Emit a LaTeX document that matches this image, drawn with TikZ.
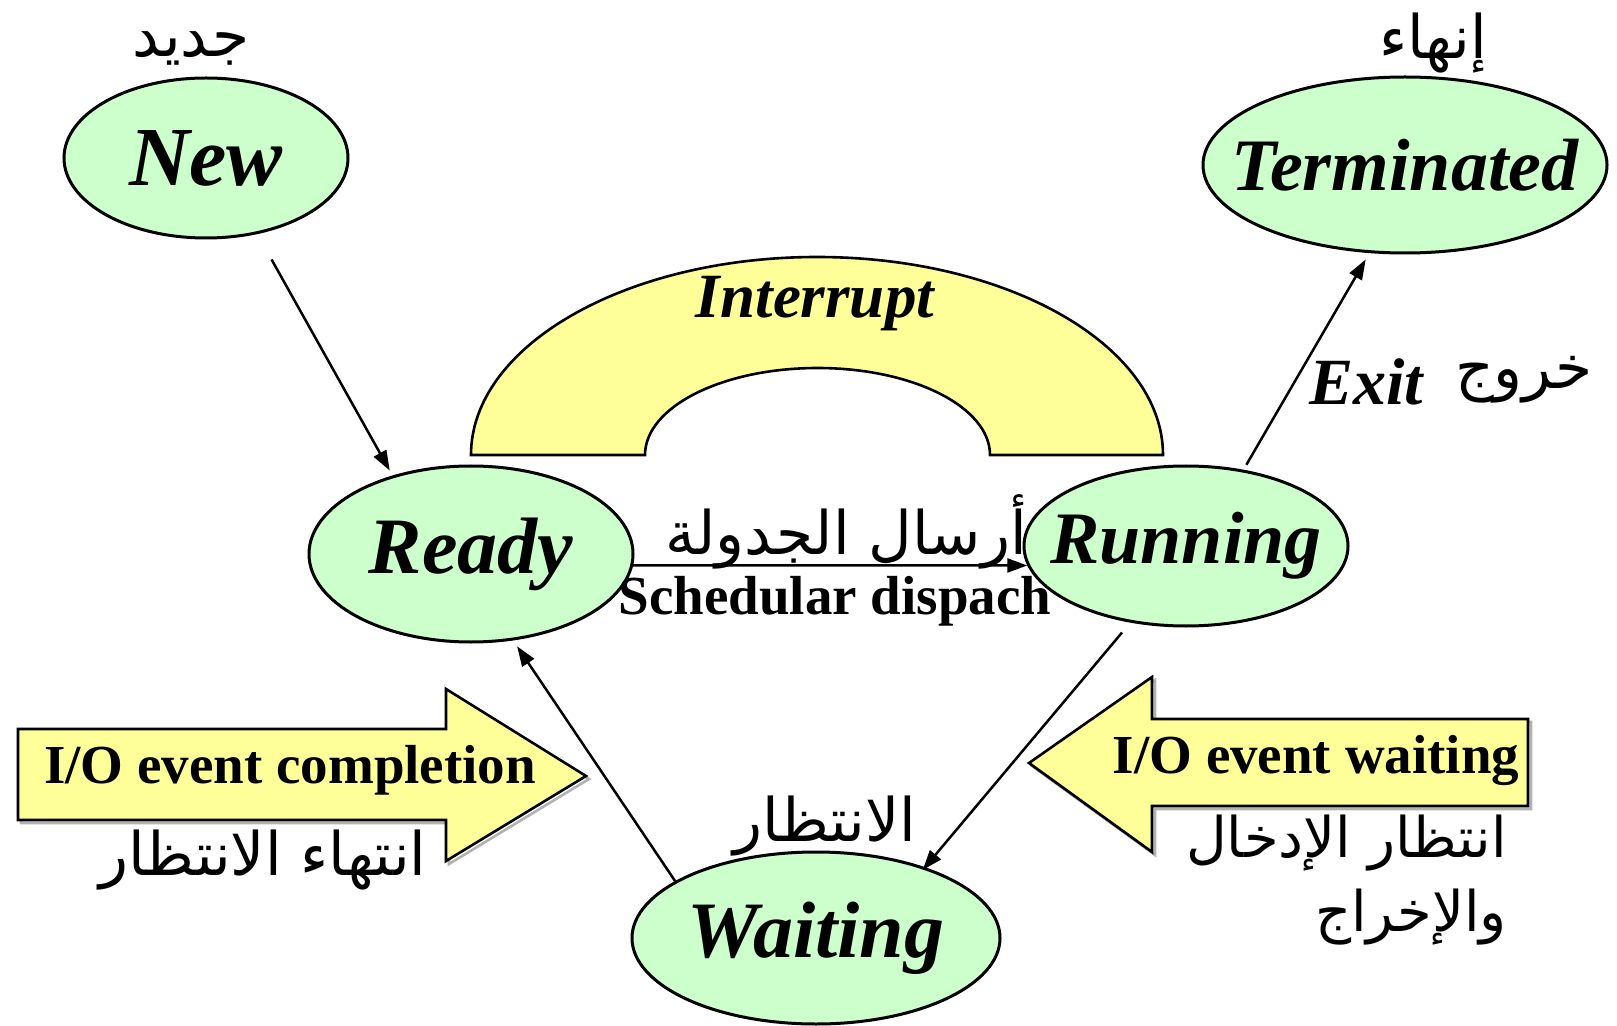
\documentclass[tikz,border=0pt]{standalone}
\usepackage{fontspec}
\setmainfont{Liberation Serif}
\newfontfamily\arabicfont[Script=Arabic]{DejaVu Sans}
\TeXXeTstate=1
\usetikzlibrary{shapes.geometric,arrows.meta}
\definecolor{stategreen}{HTML}{CCFFCC}
\definecolor{noteyellow}{HTML}{FFFF99}
% state names are set in a zero-width box so that the ellipse keeps its given size
\newcommand{\statename}[1]{\makebox[0pt][c]{#1}}

\begin{document}
\begin{tikzpicture}[x=0.5pt,y=0.5pt,
  state/.style={ellipse,draw=black,line width=1.5pt,fill=stategreen,inner sep=0pt},
  sname/.style={font=\fontsize{#1}{#1}\selectfont\bfseries\itshape},
  conn/.style={line width=1.25pt,-{Triangle[length=10pt,width=7pt]}},
  bigarrow/.style={draw=black,line width=1.3pt,fill=noteyellow},
  shade/.style={draw=black!30,line width=1.3pt},
  engl/.style={font=\fontsize{27.5}{27.5}\selectfont\bfseries},
  arab/.style={font=\fontsize{#1}{37}\selectfont\arabicfont},
  arab/.default=30]
\useasboundingbox (0,0) rectangle (1617,-1026);

% interrupt arch
\draw[bigarrow] (471,-455) arc[start angle=180,end angle=0,x radius=173pt,y radius=99pt]
  -- (990,-455) arc[start angle=0,end angle=180,x radius=86.25pt,y radius=43.5pt] -- cycle;
\node[sname=31.5] (intr) at (815,-304) {Interrupt};

% block arrows
\draw[shade] (21,-732) -- (449,-732) -- (449,-692) -- (589,-779) -- (449,-864) -- (449,-823) -- (21,-823) -- cycle;
\draw[bigarrow] (18,-729) -- (446,-729) -- (446,-689) -- (586,-776) -- (446,-861) -- (446,-820) -- (18,-820) -- cycle;
\draw[shade] (1531,-722) -- (1155,-722) -- (1155,-680) -- (1032,-766) -- (1155,-855) -- (1155,-809) -- (1531,-809) -- cycle;
\draw[bigarrow] (1528,-719) -- (1152,-719) -- (1152,-677) -- (1029,-763) -- (1152,-852) -- (1152,-806) -- (1528,-806) -- cycle;
\node[engl] (ioc) at (290,-770) {I/O event completion};
\node[engl] (iow) at (1316,-760) {I/O event waiting};

% states
\node[state,sname=42,minimum width=142pt,minimum height=80pt] (New) at (206,-158) {\statename{New}};
\node[state,sname=37,minimum width=202pt,minimum height=88pt] (Terminated) at (1405,-165) {\statename{Terminated}};
\node[state,sname=40,minimum width=162pt,minimum height=88pt] (Ready) at (471,-554) {\statename{Ready}};
\node[state,sname=37,minimum width=162pt,minimum height=80pt] (Running) at (1186,-546) {\statename{Running}};
\node[state,sname=40,minimum width=184pt,minimum height=86pt] (Waiting) at (816,-938) {\statename{Waiting}};

% transitions
\draw[conn,shorten <=14.5pt,shorten >=2.8pt] (New.-56) -- (Ready.135.4);
\draw[conn] (Ready.-4.6) -- (Running.187.7);
\draw[conn,shorten <=2.85pt,shorten >=3.7pt] (Running.53.2) -- (Terminated.-112.2);
\draw[conn,shorten <=6.45pt,shorten >=-1.85pt] (Running.-126.6) -- (Waiting.33);
\draw[conn,shorten >=3.5pt] (Waiting.158.7) -- (Ready.-64.2);

% labels
\node[arab] (lnew) at (191,-48) {\beginR جديد\endR};
\node[arab] (lterm) at (1433,-43) {\beginR إنهاء\endR};
\node[sname=33] (lexit) at (1366,-382) {Exit};
\node[arab] (lexitar) at (1524,-380) {\beginR خروج\endR};
\node[arab] (ldisp) at (846,-532) {\beginR أرسال الجدولة\endR};
\node[engl] (ldispen) at (835,-601) {Schedular dispach};
\node[arab] (lcompl) at (263,-860) {\beginR انتهاء الانتظار\endR};
\node[arab] (lwait) at (825,-826) {\beginR الانتظار\endR};
\node[arab=28,align=right,anchor=north east] (liow) at (1514,-808) {\beginR انتظار الإدخال\endR\\\beginR والإخراج\endR};
\end{tikzpicture}
\end{document}
